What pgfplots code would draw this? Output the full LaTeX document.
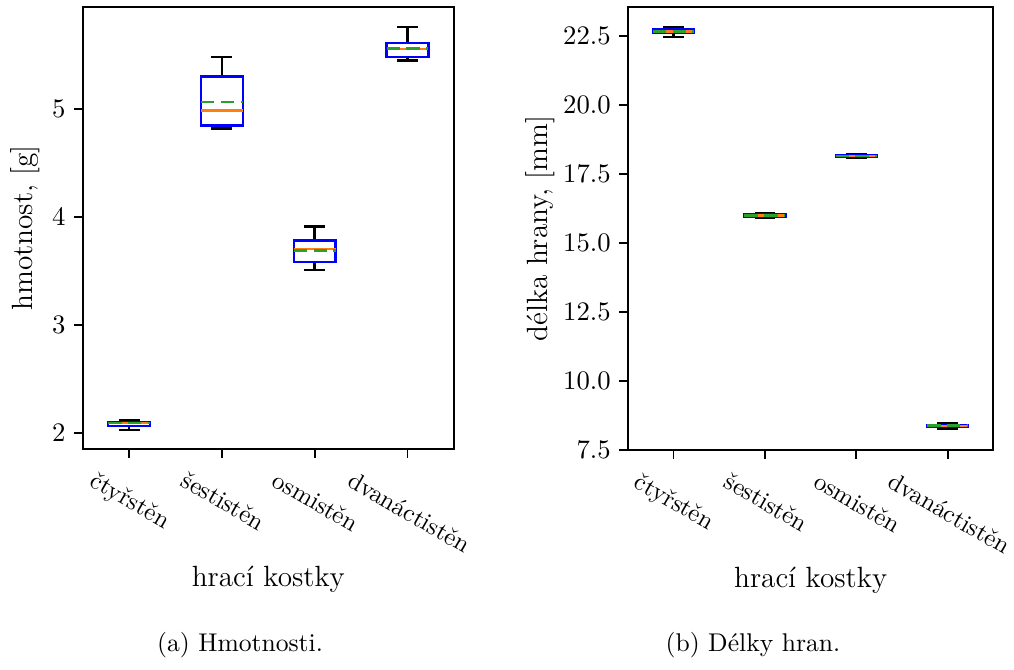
\documentclass[border=0pt]{standalone}
\usepackage{pgfplots}
\pgfplotsset{compat=1.18}
\usepgfplotslibrary{statistics}
\definecolor{mplorange}{HTML}{FF7F0E}
\definecolor{mplgreen}{HTML}{2CA02C}
\definecolor{mplblue}{HTML}{0000FF}

\pgfplotsset{
  kostky/.style={
    scale only axis, anchor=south west, clip=false,
    xmin=0.5, xmax=4.5, xtick={1,2,3,4}, xticklabels={},
    tick pos=left, tick align=outside, major tick length=3.5pt,
    every tick/.style={black, line width=0.8pt},
    axis line style={line width=0.8pt},
    tick label style={font=\fontsize{11}{13}\selectfont},
    label style={font=\fontsize{12}{14}\selectfont},
    xlabel={hrací kostky},
    xlabel style={at={(axis description cs:0.5,-0.31)}, anchor=base},
    boxplot/draw direction=y,
    boxplot/box extend=0.45,
    boxplot/whisker extend=0.225,
    boxplot/every box/.style={draw=mplblue, line width=1pt},
    boxplot/every whisker/.style={draw=black, line width=1pt},
    boxplot/every median/.style={draw=mplorange, line width=1pt},
    boxplot/draw/average/.code={%
      \draw[mplgreen, line width=1pt, dash pattern=on 5.5pt off 2.6pt]
        (boxplot box cs:\pgfplotsboxplotvalue{average},0) --
        (boxplot box cs:\pgfplotsboxplotvalue{average},1);
    },
  },
}
\tikzset{
  kostlab/.style={rotate=-30, anchor=north west, inner sep=0pt,
    font=\fontsize{10.2}{12}\selectfont},
}

\begin{document}
\begin{tikzpicture}
\path[use as bounding box] (0,0) rectangle (415.74pt,274.7pt);

% (a) hmotnosti
\begin{axis}[kostky, at={(33.9pt,90.5pt)}, width=152.2pt, height=181.5pt,
  ymin=1.846, ymax=5.953, ytick={2,3,4,5},
  ylabel={hmotnost, [g]},
  ylabel style={at={(axis description cs:-0.134,0.5)}, anchor=base}]
\addplot[boxplot prepared={draw position=1, lower whisker=2.025, lower quartile=2.06,
  median=2.087, upper quartile=2.101, upper whisker=2.116, average=2.087}] coordinates {};
\addplot[boxplot prepared={draw position=2, lower whisker=4.82, lower quartile=4.848,
  median=4.987, upper quartile=5.303, upper whisker=5.483, average=5.068}] coordinates {};
\addplot[boxplot prepared={draw position=3, lower whisker=3.508, lower quartile=3.585,
  median=3.706, upper quartile=3.783, upper whisker=3.913, average=3.690}] coordinates {};
\addplot[boxplot prepared={draw position=4, lower whisker=5.451, lower quartile=5.483,
  median=5.56, upper quartile=5.613, upper whisker=5.761, average=5.566}] coordinates {};
\node[kostlab] at ([xshift=-13.2pt,yshift=-8.4pt]axis cs:1,1.846) {čtyřstěn};
\node[kostlab] at ([xshift=-13.9pt,yshift=-8.4pt]axis cs:2,1.846) {šestistěn};
\node[kostlab] at ([xshift=-14.5pt,yshift=-8.4pt]axis cs:3,1.846) {osmistěn};
\node[kostlab] at ([xshift=-21.7pt,yshift=-8.4pt]axis cs:4,1.846) {dvanáctistěn};
\end{axis}

% (b) delky hran
\begin{axis}[kostky, at={(257.4pt,90.2pt)}, width=149.9pt, height=181.6pt,
  ymin=7.5, ymax=23.54, ytick={7.5,10,12.5,15,17.5,20,22.5},
  yticklabel style={/pgf/number format/.cd, fixed, fixed zerofill, precision=1},
  ylabel={délka hrany, [mm]},
  ylabel style={at={(axis description cs:-0.221,0.5)}, anchor=base}]
\addplot[boxplot prepared={draw position=1, lower whisker=22.46, lower quartile=22.60,
  median=22.65, upper quartile=22.73, upper whisker=22.80, average=22.66}] coordinates {};
\addplot[boxplot prepared={draw position=2, lower whisker=15.92, lower quartile=15.95,
  median=15.99, upper quartile=16.03, upper whisker=16.07, average=15.99}] coordinates {};
\addplot[boxplot prepared={draw position=3, lower whisker=18.09, lower quartile=18.12,
  median=18.15, upper quartile=18.17, upper whisker=18.21, average=18.15}] coordinates {};
\addplot[boxplot prepared={draw position=4, lower whisker=8.27, lower quartile=8.35,
  median=8.37, upper quartile=8.41, upper whisker=8.48, average=8.385}] coordinates {};
\node[kostlab] at ([xshift=-13.2pt,yshift=-8.6pt]axis cs:1,7.5) {čtyřstěn};
\node[kostlab] at ([xshift=-13.9pt,yshift=-8.6pt]axis cs:2,7.5) {šestistěn};
\node[kostlab] at ([xshift=-14.5pt,yshift=-8.6pt]axis cs:3,7.5) {osmistěn};
\node[kostlab] at ([xshift=-21.7pt,yshift=-8.6pt]axis cs:4,7.5) {dvanáctistěn};
\end{axis}

\node[anchor=base, font=\fontsize{10.5}{12}\selectfont] at (98.4pt,7.4pt) {(a) Hmotnosti.};
\node[anchor=base, font=\fontsize{10.5}{12}\selectfont] at (308.7pt,7.4pt) {(b) Délky hran.};
\end{tikzpicture}
\end{document}
